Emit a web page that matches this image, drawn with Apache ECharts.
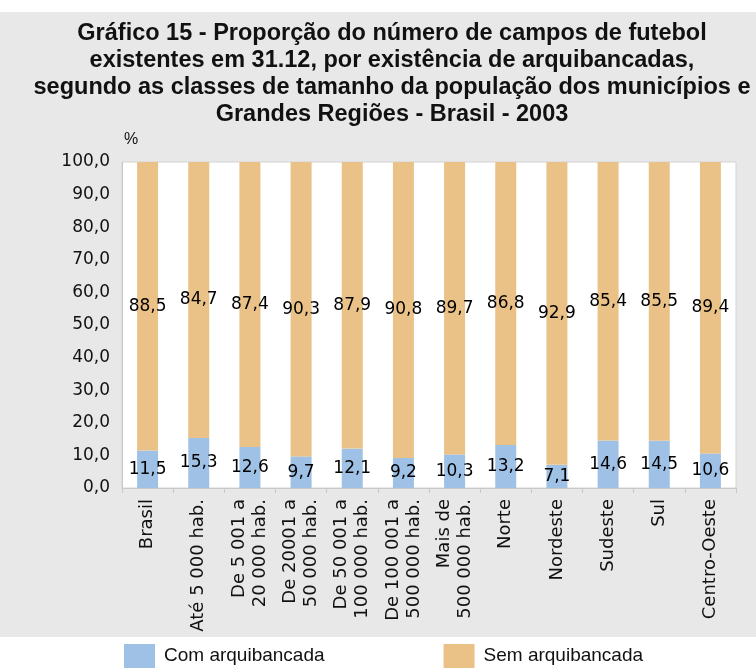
<!DOCTYPE html>
<html>
<head>
<meta charset="utf-8">
<script src="https://cdn.jsdelivr.net/npm/echarts@6/dist/echarts.min.js"></script>
<style>
  html, body { margin: 0; padding: 0; background: #fff; }
  #chart { width: 756px; height: 668px; }
</style>
</head>
<body>
<div id="chart"></div>
<script>
// categorias (classes de tamanho e Grandes Regiões)
const categories = [
  'Brasil', 'Até 5 000 hab.', 'De 5 001 a\n20 000 hab.', 'De 20001 a\n50 000 hab.',
  'De 50 001 a\n100 000 hab.', 'De 100 001 a\n500 000 hab.', 'Mais de\n500 000 hab.',
  'Norte', 'Nordeste', 'Sudeste', 'Sul', 'Centro-Oeste'
]
const comArquibancada = [11.5, 15.3, 12.6, 9.7, 12.1, 9.2, 10.3, 13.2, 7.1, 14.6, 14.5, 10.6]
const semArquibancada = [88.5, 84.7, 87.4, 90.3, 87.9, 90.8, 89.7, 86.8, 92.9, 85.4, 85.5, 89.4]
const yTicks = [0, 10, 20, 30, 40, 50, 60, 70, 80, 90, 100]

const fmt = v => v.toFixed(1).replace('.', ',')
const numFont = 'DejaVu Sans'
const titleFont = '"Liberation Sans", Arial, sans-serif'

const chart = echarts.init(document.getElementById('chart'))

const labelStyle = {
  show: true,
  position: 'inside',
  color: '#000',
  fontFamily: numFont,
  fontSize: 17,
  formatter: p => fmt(p.value)
}

chart.setOption({
  backgroundColor: '#fff',
  animation: false,
  graphic: [{
    type: 'rect',
    z: -10,
    shape: { x: 0, y: 12, width: 756, height: 625 },
    style: { fill: '#e8e8e8' }
  }],
  title: {
    text: 'Gráfico 15 - Proporção do número de campos de futebol\nexistentes em 31.12, por existência de arquibancadas,\nsegundo as classes de tamanho da população dos municípios e\nGrandes Regiões - Brasil - 2003',
    left: 387,
    textAlign: 'center',
    top: 15,
    textStyle: {
      fontFamily: titleFont,
      fontWeight: 'bold',
      fontSize: 23.5,
      lineHeight: 27,
      color: '#111'
    }
  },
  legend: {
    top: 639,
    left: 119,
    itemWidth: 31,
    itemHeight: 24,
    itemGap: 119,
    icon: 'rect',
    textStyle: { fontFamily: titleFont, fontSize: 19, color: '#111', padding: [0, 0, 0, 4] },
    data: ['Com arquibancada', 'Sem arquibancada']
  },
  grid: {
    left: 122,
    right: 20,
    top: 162,
    bottom: 180,
    show: true,
    backgroundColor: '#fff',
    borderColor: '#d4d4d4',
    borderWidth: 1
  },
  xAxis: {
    type: 'category',
    data: categories,
    axisLine: { lineStyle: { color: '#c8c8c8' } },
    axisTick: { show: true, length: 5, lineStyle: { color: '#c8c8c8' } },
    axisLabel: {
      rotate: 90,
      interval: 0,
      color: '#111',
      fontFamily: numFont,
      fontSize: 18,
      lineHeight: 21,
      margin: 11
    }
  },
  yAxis: {
    type: 'value',
    min: 0,
    max: 100,
    interval: 10,
    name: '%',
    nameLocation: 'end',
    nameGap: 14,
    nameTextStyle: { color: '#111', fontFamily: titleFont, fontSize: 16, align: 'left', padding: [0, 0, 0, 2] },
    axisLine: { show: true, lineStyle: { color: '#c8c8c8' } },
    axisTick: { show: false },
    splitLine: { show: false },
    axisLabel: {
      color: '#111',
      fontFamily: numFont,
      fontSize: 17,
      margin: 12,
      customValues: yTicks,
      formatter: v => fmt(v)
    }
  },
  series: [
    {
      name: 'Com arquibancada',
      type: 'bar',
      stack: 'total',
      barWidth: 21,
      itemStyle: { color: '#9fc1e6' },
      label: labelStyle,
      data: comArquibancada
    },
    {
      name: 'Sem arquibancada',
      type: 'bar',
      stack: 'total',
      barWidth: 21,
      itemStyle: { color: '#eac287' },
      label: labelStyle,
      data: semArquibancada
    }
  ]
})
</script>
</body>
</html>
